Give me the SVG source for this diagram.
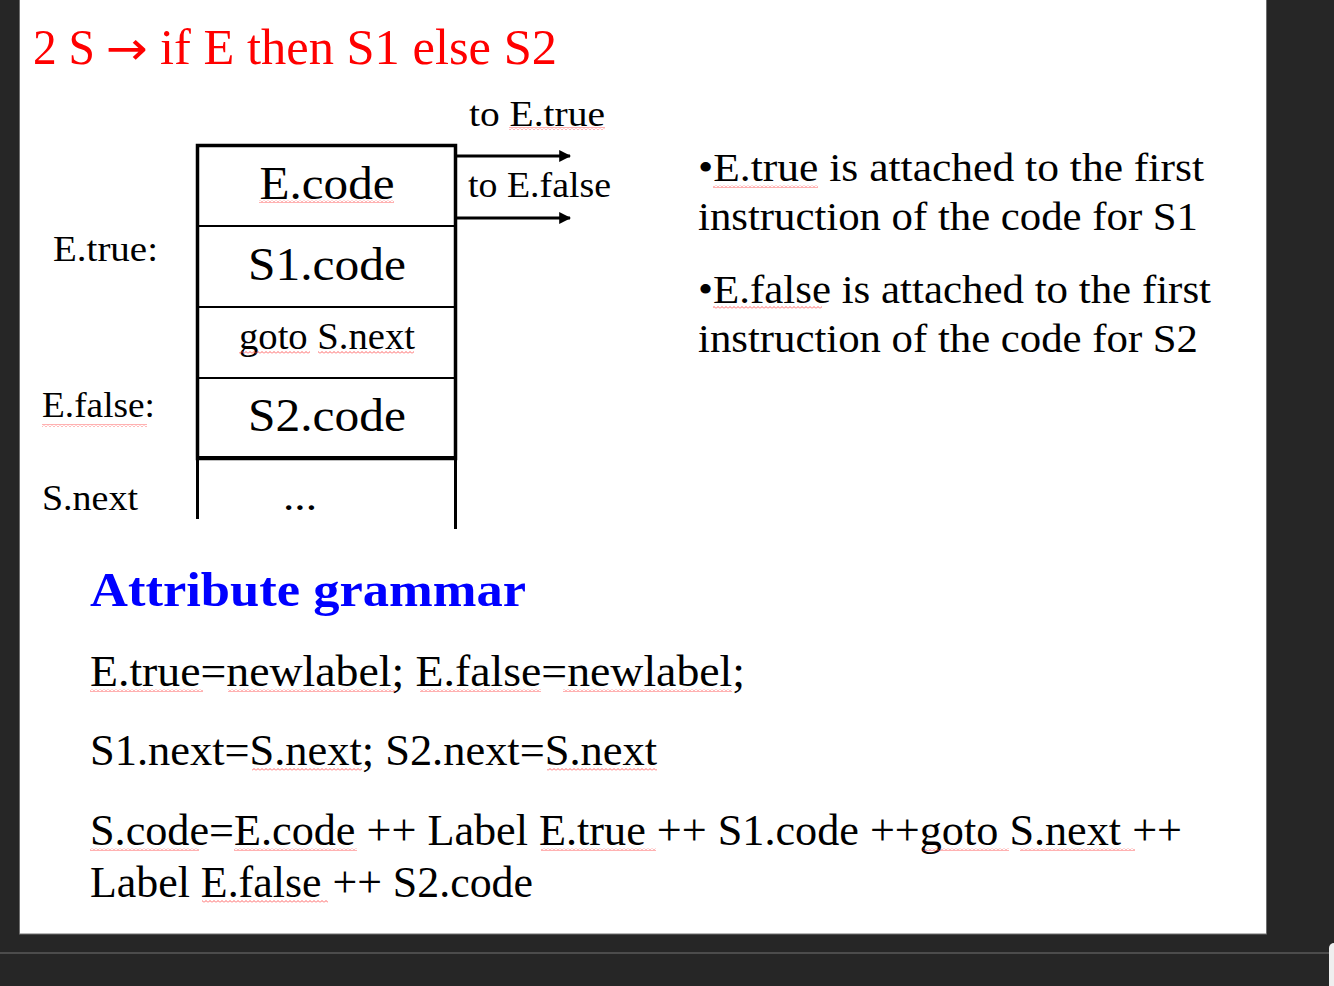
<svg xmlns="http://www.w3.org/2000/svg" width="1334" height="986" viewBox="0 0 1334 986">
  <style>
    .t { font-family: "Liberation Serif", "DejaVu Serif", serif; fill: #000; }
    .red { fill: #ff0000; }
    .blue { fill: #0000ff; font-weight: bold; }
    .box { fill: none; stroke: #000; stroke-width: 3.5; }
    .div { stroke: #000; stroke-width: 2.2; }
    .conn { stroke: #000; stroke-width: 3; fill: none; marker-end: url(#arrow); }
    .sq { fill: url(#squig); }
  </style>
  <defs>
    <marker id="arrow" viewBox="0 0 10 10" refX="9" refY="5" markerWidth="4" markerHeight="4" markerUnits="strokeWidth" orient="auto">
      <path d="M0,0 L10,5 L0,10 z" fill="#000"/>
    </marker>
    <pattern id="squig" width="4" height="3" patternUnits="userSpaceOnUse">
      <polyline points="0,2.5 2,0.5 4,2.5" fill="none" stroke="#ff3b3b" stroke-width="0.8"/>
    </pattern>
  </defs>

  <!-- window background and slide page -->
  <rect x="0" y="0" width="1334" height="986" fill="#262626"/>
  <rect x="19.5" y="-1" width="1247" height="935" fill="#ffffff" stroke="#6e6e6e" stroke-width="1"/>
  <line x1="0" y1="953" x2="1334" y2="953" stroke="#5a5a5a" stroke-width="1.5"/>
  <rect x="1329" y="943" width="20" height="60" rx="5" fill="#efefef"/>

  <!-- production heading -->
  <g id="title">
    <text class="t red" x="33" y="64" font-size="50" textLength="62" lengthAdjust="spacingAndGlyphs">2 S</text>
    <text class="red" x="106" y="64" font-size="46" font-family="DejaVu Sans, sans-serif" textLength="42" lengthAdjust="spacingAndGlyphs">→</text>
    <text class="t red" x="160" y="64" font-size="50" textLength="397" lengthAdjust="spacingAndGlyphs">if E then S1 else S2</text>
  </g>

  <!-- code layout stack -->
  <g id="stack">
    <rect class="box" x="197.5" y="145.5" width="258" height="313"/>
    <line class="div" x1="197.5" y1="226" x2="455.5" y2="226"/>
    <line class="div" x1="197.5" y1="307" x2="455.5" y2="307"/>
    <line class="div" x1="197.5" y1="378" x2="455.5" y2="378"/>
    <line x1="197.5" y1="458" x2="455.5" y2="458" stroke="#000" stroke-width="4"/>
    <line x1="197.5" y1="458" x2="197.5" y2="519" stroke="#000" stroke-width="3"/>
    <line x1="455.5" y1="458" x2="455.5" y2="529" stroke="#000" stroke-width="3"/>
  </g>
  <g id="cell-ecode">
    <text class="t" x="327" y="199" font-size="46" text-anchor="middle" textLength="135" lengthAdjust="spacingAndGlyphs">E.code</text>
  </g>
  <g id="cell-s1code">
    <text class="t" x="327" y="280" font-size="46" text-anchor="middle" textLength="158" lengthAdjust="spacingAndGlyphs">S1.code</text>
  </g>
  <g id="cell-goto">
    <text class="t" x="327" y="349" font-size="37" text-anchor="middle" textLength="176" lengthAdjust="spacingAndGlyphs">goto S.next</text>
  </g>
  <g id="cell-s2code">
    <text class="t" x="327" y="431" font-size="46" text-anchor="middle" textLength="158" lengthAdjust="spacingAndGlyphs">S2.code</text>
  </g>
  <g id="cell-next">
    <text class="t" x="300" y="510" font-size="40" text-anchor="middle" textLength="34" lengthAdjust="spacingAndGlyphs">...</text>
  </g>

  <!-- labels beside the stack -->
  <g id="label-etrue">
    <text class="t" x="53" y="261" font-size="36" textLength="105" lengthAdjust="spacingAndGlyphs">E.true:</text>
  </g>
  <g id="label-efalse">
    <text class="t" x="42" y="417" font-size="36" textLength="113" lengthAdjust="spacingAndGlyphs">E.false:</text>
  </g>
  <g id="label-snext">
    <text class="t" x="42" y="510" font-size="36" textLength="96" lengthAdjust="spacingAndGlyphs">S.next</text>
  </g>
  <g id="label-to-etrue">
    <text class="t" x="469" y="126" font-size="36" textLength="136" lengthAdjust="spacingAndGlyphs">to E.true</text>
  </g>
  <g id="label-to-efalse">
    <text class="t" x="468" y="197" font-size="36" textLength="143" lengthAdjust="spacingAndGlyphs">to E.false</text>
  </g>

  <!-- jump connectors -->
  <g id="connectors">
    <line class="conn" x1="457" y1="156" x2="570" y2="156"/>
    <line class="conn" x1="457" y1="218" x2="570" y2="218"/>
  </g>

  <!-- explanation -->
  <g id="notes">
    <text class="t" x="698" y="181" font-size="40" textLength="506" lengthAdjust="spacingAndGlyphs">•E.true is attached to the first</text>
    <text class="t" x="698" y="230" font-size="40" textLength="500" lengthAdjust="spacingAndGlyphs">instruction of the code for S1</text>
    <text class="t" x="698" y="303" font-size="40" textLength="513" lengthAdjust="spacingAndGlyphs">•E.false is attached to the first</text>
    <text class="t" x="698" y="352" font-size="40" textLength="500" lengthAdjust="spacingAndGlyphs">instruction of the code for S2</text>
  </g>

  <!-- attribute grammar rules -->
  <g id="grammar">
    <text class="t blue" x="90" y="606" font-size="48" textLength="436" lengthAdjust="spacingAndGlyphs">Attribute grammar</text>
    <text class="t" x="90" y="686" font-size="44" textLength="655" lengthAdjust="spacingAndGlyphs">E.true=newlabel; E.false=newlabel;</text>
    <text class="t" x="90" y="765" font-size="44" textLength="567" lengthAdjust="spacingAndGlyphs">S1.next=S.next; S2.next=S.next</text>
    <text class="t" x="90" y="845" font-size="44" textLength="1092" lengthAdjust="spacingAndGlyphs">S.code=E.code ++ Label E.true ++ S1.code ++goto S.next ++</text>
    <text class="t" x="90" y="897" font-size="44" textLength="443" lengthAdjust="spacingAndGlyphs">Label E.false ++ S2.code</text>
  </g>

  <!-- spell-check marks -->
  <g id="spelling">
    <rect class="sq" x="509" y="127" width="96" height="3"/>
    <rect class="sq" x="259" y="200" width="135" height="3"/>
    <rect class="sq" x="239" y="351" width="71" height="3"/>
    <rect class="sq" x="318" y="351" width="96" height="3"/>
    <rect class="sq" x="42" y="424" width="105" height="3"/>
    <rect class="sq" x="713" y="185" width="105" height="3"/>
    <rect class="sq" x="713" y="306" width="109" height="3"/>
    <rect class="sq" x="90" y="689" width="113" height="3"/>
    <rect class="sq" x="228" y="689" width="167" height="3"/>
    <rect class="sq" x="420" y="689" width="121" height="3"/>
    <rect class="sq" x="563" y="689" width="169" height="3"/>
    <rect class="sq" x="252" y="768" width="110" height="3"/>
    <rect class="sq" x="547" y="768" width="110" height="3"/>
    <rect class="sq" x="90" y="848" width="109" height="3"/>
    <rect class="sq" x="234" y="848" width="123" height="3"/>
    <rect class="sq" x="541" y="848" width="115" height="3"/>
    <rect class="sq" x="923" y="848" width="86" height="3"/>
    <rect class="sq" x="1020" y="848" width="115" height="3"/>
    <rect class="sq" x="202" y="900" width="126" height="3"/>
  </g>
</svg>
